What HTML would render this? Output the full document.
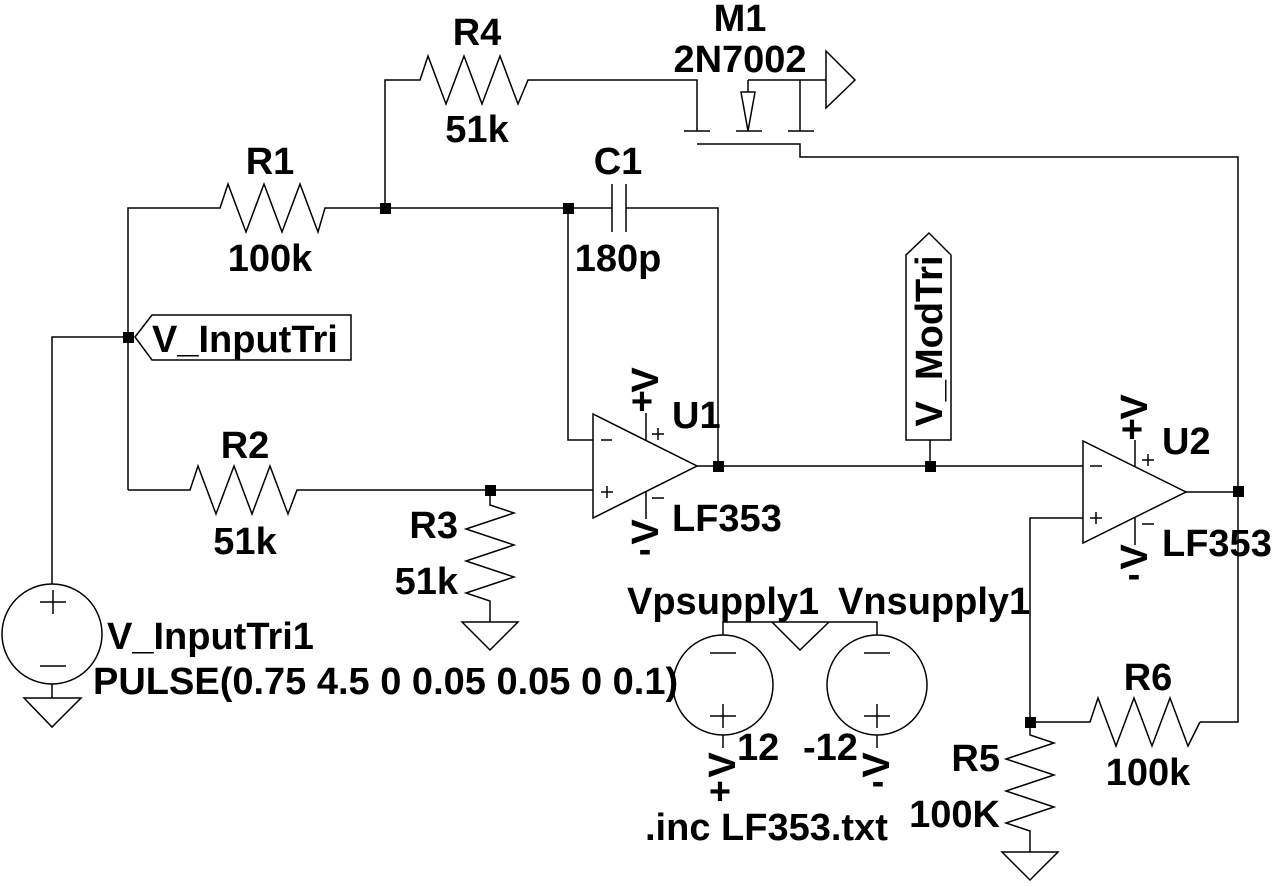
<!DOCTYPE html>
<html><head><meta charset="utf-8"><style>
html,body{margin:0;padding:0;background:#fff}
svg{display:block}
text{font-family:"Liberation Sans",Arial,sans-serif;font-weight:bold;font-size:38px;fill:#000}
</style></head><body>
<svg width="1272" height="886" viewBox="0 0 1272 886" xmlns="http://www.w3.org/2000/svg">
<g fill="none" stroke="#000" stroke-width="1.5">
<polyline points="385,208 385,80 420,80 428,56 446,104 464,56 482,104 500,56 518,104 528,80 697,80 697,131"/>
<line x1="684" y1="131" x2="710" y2="131"/>
<line x1="748" y1="80" x2="800" y2="80"/>
<line x1="748" y1="80" x2="748" y2="92"/>
<polygon points="741,92 755,92 748,131"/>
<line x1="736" y1="131" x2="762" y2="131"/>
<line x1="800" y1="80" x2="800" y2="131"/>
<line x1="788" y1="131" x2="814" y2="131"/>
<line x1="800" y1="80" x2="826" y2="80"/>
<polygon points="826,51 826,108 855,80"/>
<polyline points="697,144 800,144 800,157 1238,157 1238,722 1200,722"/>
<polyline points="128,490 128,208 220,208 228,184 246,232 264,184 282,232 300,184 318,232 325,208 612,208"/>
<line x1="612" y1="184" x2="612" y2="232"/>
<line x1="626" y1="184" x2="626" y2="232"/>
<polyline points="626,208 718,208 718,466"/>
<polyline points="568,208 568,440 593,440"/>
<polygon points="593,414 593,518 697,466"/>
<line x1="697" y1="466" x2="1083" y2="466"/>
<line x1="646" y1="413" x2="646" y2="440"/>
<line x1="646" y1="492" x2="646" y2="519"/>
<polyline points="128,490 190,490 198,466 216,514 234,466 252,514 270,466 288,514 297,490 593,490"/>
<polyline points="490,490 490,505 514,513 466,529 514,545 466,561 514,577 466,593 490,601 490,622"/>
<polygon points="462,622 518,622 490,650"/>
<polyline points="128,337 52,337 52,584"/>
<circle cx="52" cy="634" r="50"/>
<line x1="52" y1="684" x2="52" y2="698"/>
<polygon points="24,698 81,698 52,727"/>
<line x1="40" y1="602" x2="66" y2="602"/><line x1="53" y1="590" x2="53" y2="614"/>
<line x1="40" y1="666" x2="66" y2="666"/>
<polygon points="135,337 152,315 351,315 351,360 152,360"/>
<line x1="930" y1="466" x2="930" y2="440"/>
<polygon points="906,440 906,255 929,233 951,255 951,440"/>
<polygon points="1083,441 1083,543 1186,492"/>
<line x1="1186" y1="492" x2="1238" y2="492"/>
<line x1="1135" y1="440" x2="1135" y2="466"/>
<line x1="1135" y1="518" x2="1135" y2="545"/>
<polyline points="1083,518 1030,518 1030,722 1090,722 1098,698 1116,746 1134,698 1152,746 1170,698 1188,746 1200,722"/>
<polyline points="1030,722 1030,735 1054,743 1006,759 1054,775 1006,791 1054,807 1006,823 1030,831 1030,852"/>
<polygon points="1002,852 1058,852 1030,880"/>
<circle cx="723" cy="685" r="50"/>
<circle cx="877" cy="685" r="50"/>
<polyline points="723,635 723,622 877,622 877,635"/>
<polyline points="772,622 800,650 829,622"/>
<line x1="723" y1="735" x2="723" y2="748"/>
<line x1="877" y1="735" x2="877" y2="748"/>
<line x1="710" y1="653" x2="736" y2="653"/>
<line x1="864" y1="653" x2="890" y2="653"/>
<line x1="710" y1="716" x2="736" y2="716"/><line x1="723" y1="704" x2="723" y2="728"/>
<line x1="864" y1="716" x2="890" y2="716"/><line x1="877" y1="704" x2="877" y2="728"/>
<line x1="601" y1="440" x2="612" y2="440"/>
<line x1="601" y1="492" x2="613" y2="492"/><line x1="607" y1="486" x2="607" y2="498"/>
<line x1="652" y1="434" x2="664" y2="434"/><line x1="658" y1="428" x2="658" y2="440"/>
<line x1="652" y1="498" x2="664" y2="498"/>
<line x1="1090" y1="466" x2="1102" y2="466"/>
<line x1="1090" y1="518" x2="1102" y2="518"/><line x1="1096" y1="512" x2="1096" y2="524"/>
<line x1="1142" y1="460" x2="1154" y2="460"/><line x1="1148" y1="454" x2="1148" y2="466"/>
<line x1="1142" y1="524" x2="1154" y2="524"/>
</g>
<g fill="#000">
<rect x="380" y="203" width="11" height="11"/>
<rect x="563" y="203" width="11" height="11"/>
<rect x="123" y="332" width="11" height="11"/>
<rect x="485" y="485" width="11" height="11"/>
<rect x="713" y="461" width="11" height="11"/>
<rect x="925" y="461" width="11" height="11"/>
<rect x="1233" y="486" width="11" height="11"/>
<rect x="1025" y="717" width="11" height="11"/>
</g>
<text x="740" y="31" text-anchor="middle">M1</text>
<text x="740" y="72" text-anchor="middle">2N7002</text>
<text x="477" y="45" text-anchor="middle">R4</text>
<text x="477" y="142" text-anchor="middle">51k</text>
<text x="270" y="174" text-anchor="middle">R1</text>
<text x="270" y="271" text-anchor="middle">100k</text>
<text x="618" y="174" text-anchor="middle">C1</text>
<text x="618" y="271" text-anchor="middle">180p</text>
<text x="245" y="458" text-anchor="middle">R2</text>
<text x="245" y="554" text-anchor="middle">51k</text>
<text x="458" y="538" text-anchor="end">R3</text>
<text x="458" y="594" text-anchor="end">51k</text>
<text x="672" y="428">U1</text>
<text x="672" y="531">LF353</text>
<text x="1162" y="454">U2</text>
<text x="1162" y="556">LF353</text>
<text x="107" y="649">V_InputTri1</text>
<text x="93" y="694">PULSE(0.75 4.5 0 0.05 0.05 0 0.1)</text>
<text x="627" y="614">Vpsupply1</text>
<text x="838" y="614">Vnsupply1</text>
<text x="737" y="760">12</text>
<text x="803" y="760">-12</text>
<text x="645" y="840">.inc LF353.txt</text>
<text x="1148" y="690" text-anchor="middle">R6</text>
<text x="1148" y="785" text-anchor="middle">100k</text>
<text x="1000" y="771" text-anchor="end">R5</text>
<text x="1000" y="827" text-anchor="end">100K</text>
<text x="152" y="352">V_InputTri</text>
<text transform="translate(942,341) rotate(-90)" text-anchor="middle">V_ModTri</text>
<text transform="translate(658,380) rotate(-90)" text-anchor="middle">V</text>
<text x="642" y="414" text-anchor="middle">+</text>
<text transform="translate(658,532) rotate(-90)" text-anchor="middle">V</text>
<text x="645" y="562" text-anchor="middle">-</text>
<text transform="translate(1147,407) rotate(-90)" text-anchor="middle">V</text>
<text x="1132" y="442" text-anchor="middle">+</text>
<text transform="translate(1147,557) rotate(-90)" text-anchor="middle">V</text>
<text x="1134" y="587" text-anchor="middle">-</text>
<text transform="translate(735,765) rotate(-90)" text-anchor="middle">V</text>
<text x="720" y="804" text-anchor="middle">+</text>
<text transform="translate(889,765) rotate(-90)" text-anchor="middle">V</text>
<text x="878" y="794" text-anchor="middle">-</text>
</svg>
</body></html>
